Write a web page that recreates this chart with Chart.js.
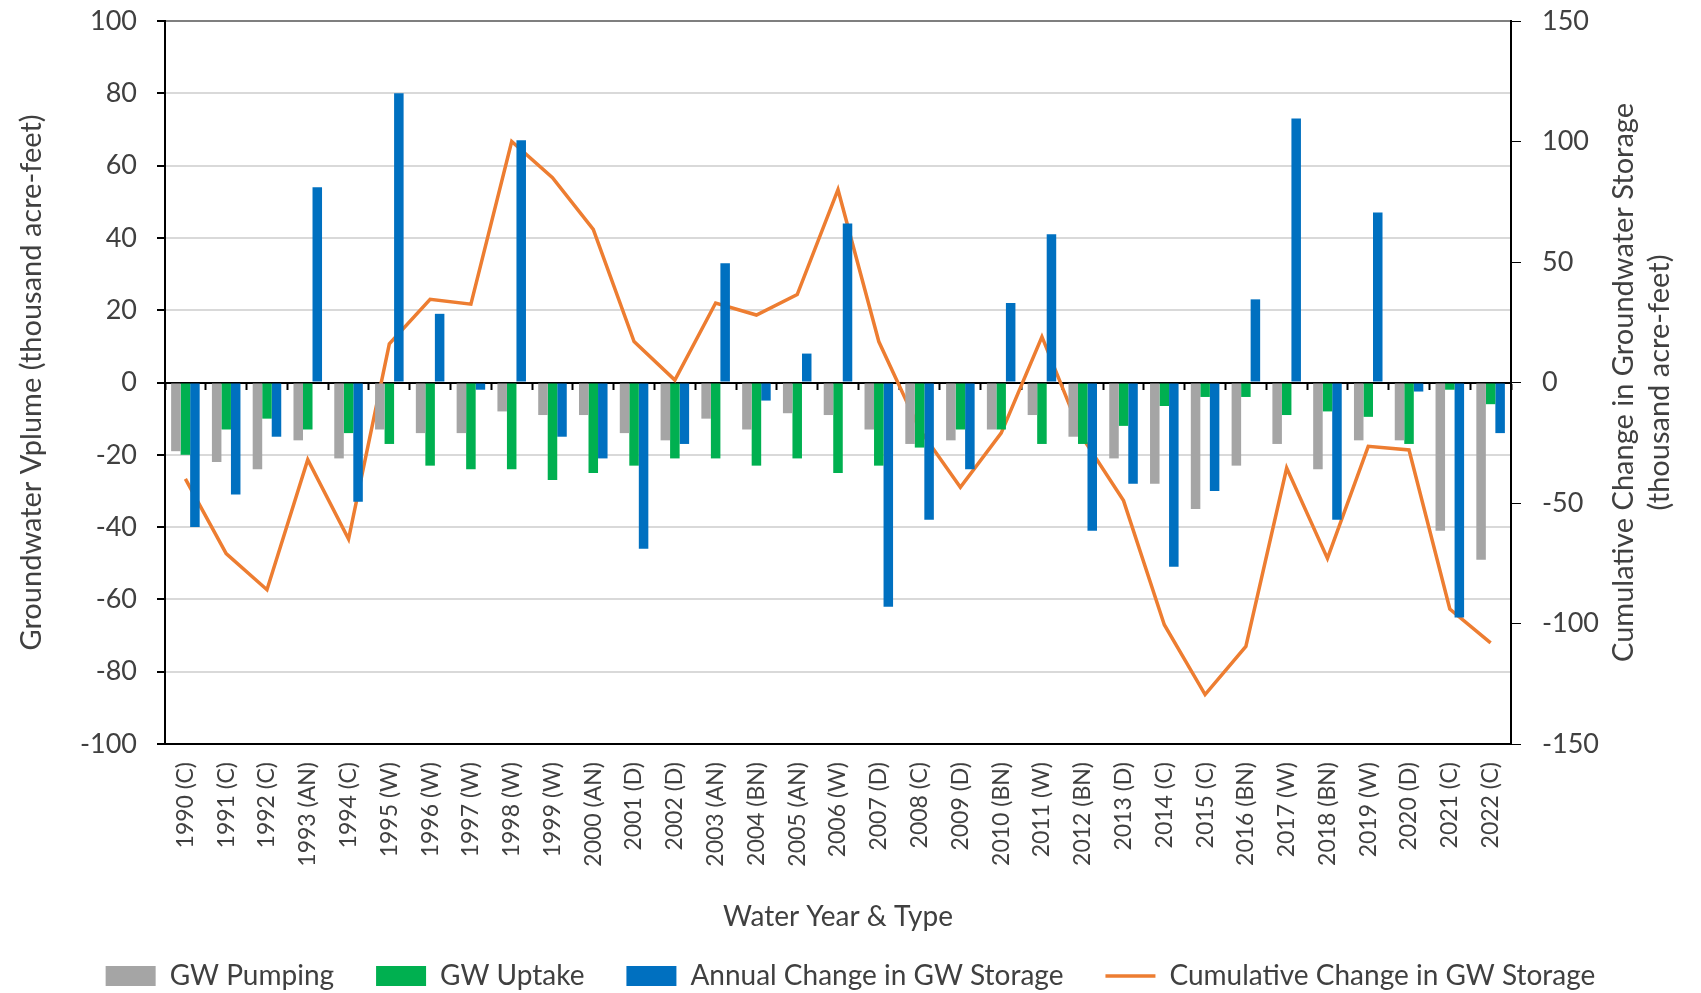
<!DOCTYPE html>
<html>
<head>
<meta charset="utf-8">
<title>Groundwater Storage Change</title>
<script src="https://cdn.jsdelivr.net/npm/chart.js@4.4.1/dist/chart.umd.min.js"></script>
<style>
    html, body { margin: 0; padding: 0; background: #ffffff; }
    .chart-container { position: relative; width: 1701px; height: 993px; }
</style>
</head>
<body>
<div class="chart-container">
    <canvas id="chart-canvas" width="1701" height="993"></canvas>
</div>
<script>
const categories = [
    "1990 (C)", "1991 (C)", "1992 (C)", "1993 (AN)", "1994 (C)", "1995 (W)", "1996 (W)",
    "1997 (W)", "1998 (W)", "1999 (W)", "2000 (AN)", "2001 (D)", "2002 (D)", "2003 (AN)",
    "2004 (BN)", "2005 (AN)", "2006 (W)", "2007 (D)", "2008 (C)", "2009 (D)", "2010 (BN)",
    "2011 (W)", "2012 (BN)", "2013 (D)", "2014 (C)", "2015 (C)", "2016 (BN)", "2017 (W)",
    "2018 (BN)", "2019 (W)", "2020 (D)", "2021 (C)", "2022 (C)"
];

// thousand acre-feet
const gwPumping = [-19, -22, -24, -16, -21, -13, -14, -14, -8, -9, -9, -14, -16, -10, -13, -8.5, -9,
    -13, -17, -16, -13, -9, -15, -21, -28, -35, -23, -17, -24, -16, -16, -41, -49];
const gwUptake = [-20, -13, -10, -13, -14, -17, -23, -24, -24, -27, -25, -23, -21, -21, -23, -21, -25,
    -23, -18, -13, -13, -17, -17, -12, -6.5, -4, -4, -9, -8, -9.5, -17, -2, -6];
const annualChange = [-40, -31, -15, 54, -33, 80, 19, -2, 67, -15, -21, -46, -17, 33, -5, 8, 44,
    -62, -38, -24, 22, 41, -41, -28, -51, -30, 23, 73, -38, 47, -2.5, -65, -14];
const cumulativeChange = [-40, -71, -86, -32, -65, 16, 34.5, 32.5, 100, 85, 63.5, 17, 1, 33, 28, 36.5, 80,
    17, -19.5, -43.5, -21, 19, -23, -49, -100.5, -129.5, -109.5, -35.5, -73, -26.5, -28, -94, -108];

const leftTicks = [-100, -80, -60, -40, -20, 0, 20, 40, 60, 80, 100];
const rightTicks = [-150, -100, -50, 0, 50, 100, 150];

const FONT = "Lato, 'Noto Sans', sans-serif";
const TEXT = "#404040";

// right axis title reads bottom-to-top like the left one
const rightTitle = {
    id: "rightTitle",
    afterDraw: function(chart) {
        const ctx = chart.ctx;
        const area = chart.chartArea;
        const cy = (area.top + area.bottom) / 2;
        ctx.save();
        ctx.fillStyle = TEXT;
        ctx.font = "29px " + FONT;
        ctx.textAlign = "center";
        ctx.textBaseline = "middle";
        [["Cumulative Change in Groundwater Storage", 1624], ["(thousand acre-feet)", 1660]].forEach(function(t) {
            ctx.save();
            ctx.translate(t[1], cy);
            ctx.rotate(-Math.PI / 2);
            ctx.fillText(t[0], 0, 0);
            ctx.restore();
        });
        ctx.restore();
    }
};

const canvas = document.getElementById("chart-canvas");

new Chart(canvas, {
    type: "bar",
    data: {
        labels: categories,
        datasets: [
            { label: "GW Pumping", data: gwPumping, backgroundColor: "#A5A5A5", pointStyle: "rect",
              categoryPercentage: 0.7, barPercentage: 1.0 },
            { label: "GW Uptake", data: gwUptake, backgroundColor: "#00B050", pointStyle: "rect",
              categoryPercentage: 0.7, barPercentage: 1.0 },
            { label: "Annual Change in GW Storage", data: annualChange, backgroundColor: "#0070C0", pointStyle: "rect",
              categoryPercentage: 0.7, barPercentage: 1.0 },
            { type: "line", label: "Cumulative Change in GW Storage", data: cumulativeChange, yAxisID: "y2",
              borderColor: "#ED7D31", backgroundColor: "#ED7D31", borderWidth: 3.5, pointRadius: 0,
              pointStyle: "line", tension: 0, fill: false }
        ]
    },
    options: {
        responsive: false,
        animation: false,
        layout: { padding: { top: 21, left: 0, right: 0, bottom: -7 } },
        plugins: {
            tooltip: { enabled: false },
            legend: {
                position: "bottom",
                labels: {
                    usePointStyle: true,
                    pointStyleWidth: 50,
                    boxHeight: 20,
                    padding: 42,
                    color: TEXT,
                    font: { family: FONT, size: 28 }
                }
            }
        },
        scales: {
            x: {
                type: "category",
                position: "bottom",
                offset: true,
                grid: { display: false, drawTicks: false },
                border: { color: "#000000", width: 2 },
                ticks: {
                    color: TEXT, font: { family: FONT, size: 23 },
                    minRotation: 90, maxRotation: 90, autoSkip: false, padding: 18
                },
                title: {
                    display: true, text: "Water Year & Type", color: TEXT,
                    font: { family: FONT, size: 28 }, padding: { top: 0, bottom: -14 }
                },
                afterFit: function(scale) { scale.height = 176; }
            },
            x0: {
                type: "category",
                position: { y: 0 },
                offset: true,
                z: 1,
                grid: { drawOnChartArea: false, offset: true, tickLength: 6, tickColor: "#000000", tickWidth: 2 },
                border: { color: "#000000", width: 2 },
                ticks: { display: false }
            },
            y: {
                position: "left",
                min: -100,
                max: 100,
                afterBuildTicks: function(scale) { scale.ticks = leftTicks.map(function(v) { return { value: v }; }); },
                grid: {
                    color: function(c) {
                        if (c.tick && c.tick.value === 100) return "#7F7F7F";
                        if (c.tick && c.tick.value === 0) return "#000000";
                        return "#D9D9D9";
                    },
                    lineWidth: 2,
                    tickColor: "#000000",
                    tickLength: 8
                },
                border: { color: "#000000", width: 2 },
                ticks: { color: TEXT, font: { family: FONT, size: 27 }, padding: 20 },
                title: {
                    display: true, text: "Groundwater Vplume (thousand acre-feet)", color: TEXT,
                    font: { family: FONT, size: 29 }, padding: { top: 14, bottom: 0 }
                },
                afterFit: function(scale) { scale.width = 165; scale.paddingTop = 0; scale.paddingBottom = 0; }
            },
            y2: {
                position: "right",
                min: -150,
                max: 150,
                afterBuildTicks: function(scale) { scale.ticks = rightTicks.map(function(v) { return { value: v }; }); },
                grid: { drawOnChartArea: false, tickColor: "#000000", tickLength: 10 },
                border: { color: "#000000", width: 2 },
                ticks: { color: TEXT, font: { family: FONT, size: 27 }, padding: 21 },
                afterFit: function(scale) { scale.width = 190; scale.paddingTop = 0; scale.paddingBottom = 0; }
            }
        }
    },
    plugins: [rightTitle]
});
</script>
</body>
</html>
